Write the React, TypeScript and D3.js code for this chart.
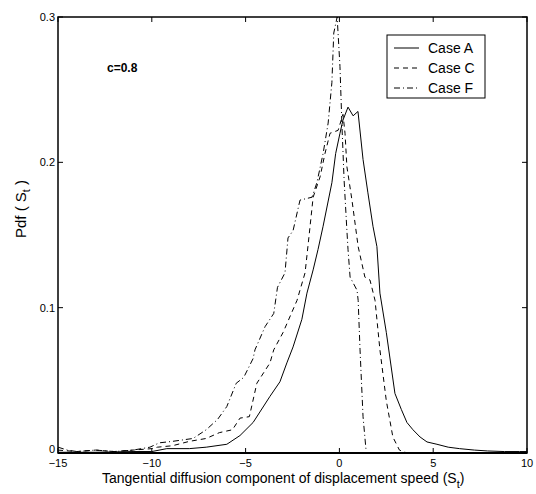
import React from "react";
import * as d3 from "d3";

const xTicks = [-15, -10, -5, 0, 5, 10];
const yTicks = [0, 0.1, 0.2, 0.3];
const yTickLabels = ["0", "0.1", "0.2", "0.3"];

const caseAx = [-15, -13, -11, -10, -9.2, -8, -7.1, -6, -5.3, -4.6, -3.7, -3.17, -2.8, -2.47, -2.0, -1.73, -1.4, -1.14, -0.87, -0.4, -0.2, 0.03, 0.19, 0.46, 0.73, 0.99, 1.26, 1.52, 1.79, 2.0, 2.16, 2.5, 2.96, 3.3, 3.6, 3.92, 4.3, 4.67, 5.2, 5.8, 6.4, 7.2, 7.9, 8.8, 9.6, 10];
const caseAy = [0.0005, 0.0005, 0.001, 0.001, 0.003, 0.003, 0.004, 0.006, 0.012, 0.021, 0.039, 0.049, 0.062, 0.073, 0.092, 0.11, 0.126, 0.14, 0.156, 0.186, 0.206, 0.22, 0.229, 0.238, 0.232, 0.235, 0.202, 0.179, 0.156, 0.142, 0.11, 0.083, 0.041, 0.03, 0.021, 0.016, 0.011, 0.0076, 0.006, 0.004, 0.003, 0.002, 0.0014, 0.001, 0.001, 0.001];

const caseCx = [-15, -14, -13, -12, -11, -10, -9.7, -8.9, -8, -7.1, -6.4, -5.7, -5.3, -4.8, -4.4, -3.7, -3.5, -3.0, -2.26, -1.83, -1.67, -1.4, -1.03, -0.77, -0.5, -0.07, 0.19, 0.3, 0.4, 0.67, 1.0, 1.36, 1.63, 1.9, 2.16, 2.5, 2.85, 3.2, 3.6];
const caseCy = [0.002, 0.001, 0.002, 0.001, 0.002, 0.003, 0.004, 0.005, 0.008, 0.01, 0.014, 0.016, 0.024, 0.025, 0.048, 0.062, 0.071, 0.083, 0.105, 0.124, 0.143, 0.176, 0.19, 0.206, 0.22, 0.222, 0.233, 0.22, 0.197, 0.174, 0.142, 0.121, 0.119, 0.105, 0.071, 0.036, 0.011, 0.002, 0.0];

const caseFx = [-15, -14.5, -14, -13, -12, -11, -10.1, -9.6, -8.9, -7.8, -7.1, -6.5, -6.0, -5.5, -5.1, -4.6, -4.5, -3.96, -3.5, -3.3, -2.9, -2.74, -2.47, -2.1, -1.46, -1.2, -0.87, -0.6, -0.4, -0.3, -0.12, 0.03, 0.14, 0.25, 0.4, 0.46, 0.57, 0.94, 1.0, 1.1, 1.26, 1.42];
const caseFy = [0.004, 0.002, 0.001, 0.002, 0.001, 0.002, 0.004, 0.007, 0.008, 0.01, 0.016, 0.023, 0.032, 0.048, 0.052, 0.065, 0.071, 0.087, 0.096, 0.114, 0.124, 0.148, 0.153, 0.174, 0.176, 0.186, 0.206, 0.227, 0.255, 0.289, 0.3, 0.266, 0.224, 0.188, 0.153, 0.14, 0.121, 0.112, 0.105, 0.071, 0.025, 0.002];

const seriesNames = ["Case A", "Case C", "Case F"];
const dashes = ["", "5,4", "6,3,1,3"];

const FONT = "'Liberation Sans', Arial, Helvetica, sans-serif";

export default function App() {
  const L = 58, R = 527, T = 17, B = 453;
  const x = d3.scaleLinear().domain([-15, 10]).range([L, R]);
  const y = d3.scaleLinear().domain([0, 0.3]).range([B, T]);
  const line = d3
    .line<[number, number]>()
    .x((d) => x(d[0]))
    .y((d) => y(d[1]));
  const series = [
    d3.zip(caseAx, caseAy) as [number, number][],
    d3.zip(caseCx, caseCy) as [number, number][],
    d3.zip(caseFx, caseFy) as [number, number][],
  ];
  const tl = 5;
  return (
    <svg
      width={536}
      height={494}
      style={{ position: "absolute", left: 0, top: 0, background: "#fff" }}
      fontFamily={FONT}
    >
      <rect x={0} y={0} width={536} height={494} fill="#fff" />
      <defs>
        <clipPath id="pa">
          <rect x={L} y={T - 1} width={R - L} height={B - T + 1} />
        </clipPath>
      </defs>
      <g clipPath="url(#pa)">
        {series.map((s, i) => (
          <path
            key={i}
            d={line(s) || ""}
            fill="none"
            stroke="#000"
            strokeWidth={1}
            strokeDasharray={dashes[i] || undefined}
          />
        ))}
      </g>
      {/* box */}
      <rect x={L} y={T} width={R - L} height={B - T} fill="none" stroke="#000" strokeWidth={1.5} />
      <line x1={L} x2={R} y1={B} y2={B} stroke="#000" strokeWidth={2.2} />
      {/* ticks */}
      {xTicks.map((t) => (
        <g key={"xt" + t}>
          <line x1={x(t)} x2={x(t)} y1={B} y2={B - tl} stroke="#000" />
          <line x1={x(t)} x2={x(t)} y1={T} y2={T + tl} stroke="#000" />
          <text x={x(t)} y={467} fontSize={11} textAnchor="middle">
            {t < 0 ? "\u2212" + Math.abs(t) : String(t)}
          </text>
        </g>
      ))}
      {yTicks.map((t, i) => (
        <g key={"yt" + t}>
          <line x1={L} x2={L + tl} y1={y(t)} y2={y(t)} stroke="#000" />
          <line x1={R} x2={R - tl} y1={y(t)} y2={y(t)} stroke="#000" />
          <text x={55} y={y(t) + (i === 0 ? 0 : 4)} fontSize={11} textAnchor="end">
            {yTickLabels[i]}
          </text>
        </g>
      ))}
      {/* x label */}
      <text x={102} y={483} fontSize={14}>
        Tangential diffusion component of displacement speed (S
        <tspan fontSize={11} dy={5}>t</tspan>
        <tspan dy={-5}>)</tspan>
      </text>
      {/* y label */}
      <text transform="translate(26,209) rotate(-90)" fontSize={15} textAnchor="middle">
        Pdf ( S<tspan fontSize={11} dy={4}>t</tspan>
        <tspan dy={-4}> )</tspan>
      </text>
      {/* annotation */}
      <text x={107} y={72} fontSize={12} fontWeight="bold">
        c=0.8
      </text>
      {/* legend */}
      <rect x={387} y={35} width={98} height={63} fill="#fff" stroke="#000" strokeWidth={1} />
      {seriesNames.map((n, i) => (
        <g key={n}>
          <line
            x1={394}
            x2={419}
            y1={48 + i * 20}
            y2={48 + i * 20}
            stroke="#000"
            strokeWidth={1}
            strokeDasharray={dashes[i] || undefined}
          />
          <text x={428} y={53 + i * 20} fontSize={14}>
            {n}
          </text>
        </g>
      ))}
    </svg>
  );
}
